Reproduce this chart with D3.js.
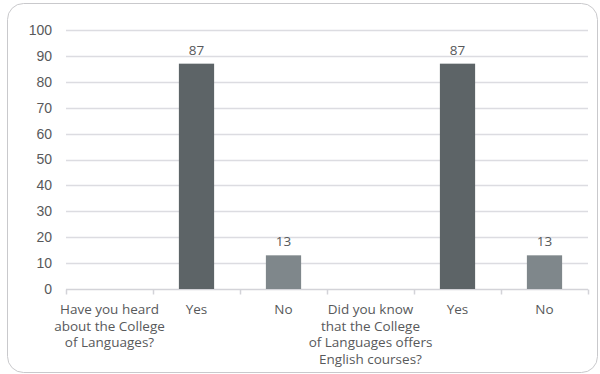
<!DOCTYPE html>
<html>
<head>
<meta charset="utf-8">
<script src="https://cdn.jsdelivr.net/npm/d3@7"></script>
<style>
  html, body { margin: 0; padding: 0; background: #fff; }
  svg { display: block; font-family: "Open Sans", "Noto Sans", sans-serif; }
</style>
</head>
<body>
<svg id="chart" width="600" height="374"></svg>
<script>
// Survey answers (percent of respondents)
const categories = [
  "Have you heard|about the College|of Languages?",
  "Yes",
  "No",
  "Did you know|that the College|of Languages offers|English courses?",
  "Yes",
  "No"
];
const values = [null, 87, 13, null, 87, 13];
const barKinds = ["question", "yes", "no", "question", "yes", "no"];
const yTicks = [0, 10, 20, 30, 40, 50, 60, 70, 80, 90, 100];

const colors = { yes: "#5d6467", no: "#7f878b" };
const textColor = "#58595b";
const gridColor = "#dcdce1";

const svg = d3.select("#chart");
const margin = { left: 66, right: 12, top: 30, bottom: 85 };
const W = 600, H = 374;

// Rounded frame around the chart
svg.append("rect")
  .attr("x", 7.5).attr("y", 3.5)
  .attr("width", 590).attr("height", 369)
  .attr("rx", 16).attr("ry", 16)
  .attr("fill", "none")
  .attr("stroke", "#c9c9cc")
  .attr("stroke-width", 1);

const x = d3.scaleBand()
  .domain(d3.range(categories.length))
  .range([margin.left, W - margin.right]);

const y = d3.scaleLinear()
  .domain([0, 100])
  .range([H - margin.bottom, margin.top]);

// Horizontal gridlines
svg.append("g")
  .selectAll("line")
  .data(yTicks.filter(t => t > 0))
  .join("line")
  .attr("x1", margin.left).attr("x2", W - margin.right)
  .attr("y1", d => Math.round(y(d)) + 0.5)
  .attr("y2", d => Math.round(y(d)) + 0.5)
  .attr("stroke", gridColor)
  .attr("stroke-width", 1.5);

// Y axis labels
const yAxis = d3.axisLeft(y).tickValues(yTicks).tickSize(0).tickPadding(14);
const gy = svg.append("g")
  .attr("transform", `translate(${margin.left},0)`)
  .call(yAxis);
gy.select(".domain").remove();
gy.selectAll("text")
  .attr("fill", textColor)
  .style("font-size", "14px");

// X axis baseline with ticks at band boundaries
const baseY = Math.round(y(0)) + 0.5;
svg.append("line")
  .attr("x1", margin.left).attr("x2", W - margin.right)
  .attr("y1", baseY).attr("y2", baseY)
  .attr("stroke", "#d3d3d8").attr("stroke-width", 1.5);
const boundaries = d3.range(categories.length + 1).map(i =>
  i < categories.length ? x(i) : x(categories.length - 1) + x.bandwidth());
svg.append("g")
  .selectAll("line")
  .data(boundaries)
  .join("line")
  .attr("x1", d => Math.round(d) + 0.5).attr("x2", d => Math.round(d) + 0.5)
  .attr("y1", baseY).attr("y2", baseY + 5)
  .attr("stroke", "#d3d3d8").attr("stroke-width", 1.5);

// Bars
const barW = x.bandwidth() * 0.405;
const data = categories.map((c, i) => ({ i, v: values[i], kind: barKinds[i] }))
  .filter(d => d.v !== null);

svg.append("g")
  .selectAll("rect")
  .data(data)
  .join("rect")
  .attr("x", d => x(d.i) + (x.bandwidth() - barW) / 2)
  .attr("y", d => y(d.v))
  .attr("width", barW)
  .attr("height", d => y(0) - y(d.v))
  .attr("fill", d => colors[d.kind]);

// Value labels
svg.append("g")
  .selectAll("text")
  .data(data)
  .join("text")
  .attr("x", d => x(d.i) + x.bandwidth() / 2)
  .attr("y", d => y(d.v) - 9)
  .attr("text-anchor", "middle")
  .attr("fill", textColor)
  .style("font-size", "13.5px")
  .text(d => d.v);

// Category labels (multi-line)
const catG = svg.append("g");
categories.forEach((c, i) => {
  const t = catG.append("text")
    .attr("x", x(i) + x.bandwidth() / 2)
    .attr("y", 314)
    .attr("text-anchor", "middle")
    .attr("fill", textColor)
    .style("font-size", "13.5px");
  c.split("|").forEach((line, k) => {
    t.append("tspan")
      .attr("x", x(i) + x.bandwidth() / 2)
      .attr("dy", k === 0 ? 0 : 16.6)
      .text(line);
  });
});
</script>
</body>
</html>
